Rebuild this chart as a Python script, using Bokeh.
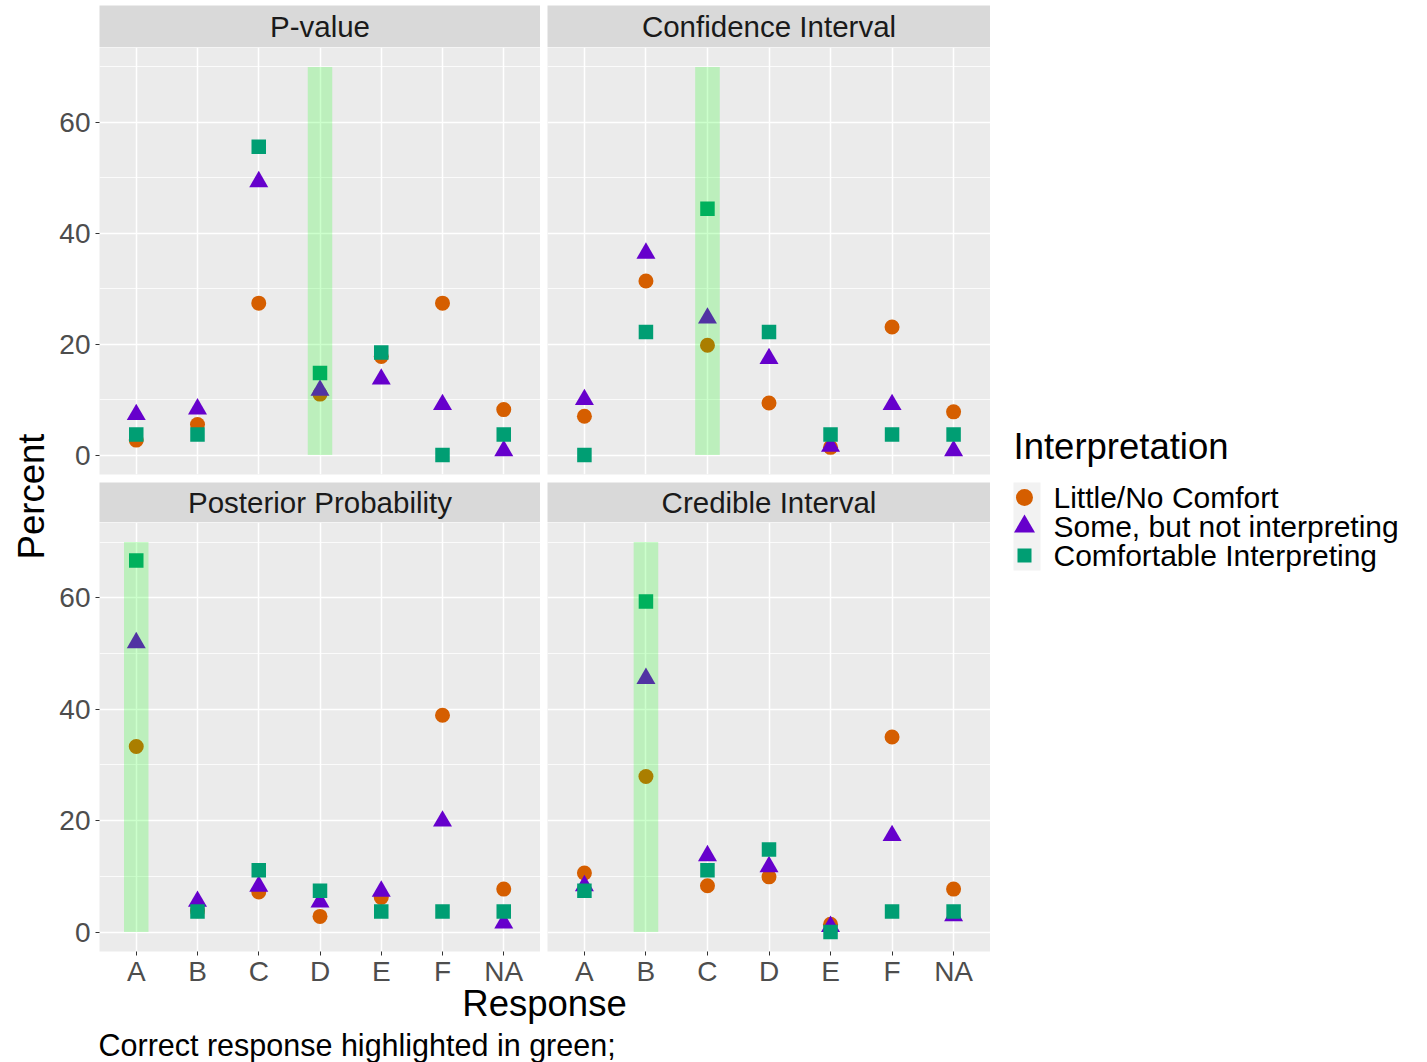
from bokeh.plotting import figure
from bokeh.models import (Range1d, FactorRange, LinearAxis, CategoricalAxis, FixedTicker,
                          CategoricalTicker, Grid, Label, BoxAnnotation)
from bokeh.layouts import row, column
from bokeh.embed import file_html
from bokeh.resources import INLINE

# ---------------- data ----------------
responses = ["A", "B", "C", "D", "E", "F", "NA"]
groups = ["Little/No Comfort", "Some, but not interpreting", "Comfortable Interpreting"]

pval_little = [2.7, 5.5, 27.4, 11.0, 17.8, 27.4, 8.2]
pval_some = [7.3, 8.3, 49.3, 11.7, 13.7, 9.1, 0.8]
pval_comf = [3.7, 3.7, 55.6, 14.8, 18.5, 0.0, 3.7]

ci_little = [7.0, 31.4, 19.8, 9.4, 1.4, 23.1, 7.8]
ci_some = [10.0, 36.4, 24.7, 17.4, 1.6, 9.1, 0.8]
ci_comf = [0.0, 22.2, 44.4, 22.2, 3.7, 3.7, 3.7]

post_little = [33.3, 3.8, 7.2, 2.8, 6.2, 38.9, 7.7]
post_some = [51.9, 5.5, 8.2, 5.4, 7.3, 19.9, 1.6]
post_comf = [66.7, 3.7, 11.1, 7.4, 3.7, 3.7, 3.7]

cred_little = [10.6, 27.9, 8.3, 9.9, 1.4, 35.0, 7.7]
cred_some = [8.3, 45.5, 13.7, 11.7, 1.0, 17.3, 2.9]
cred_comf = [7.4, 59.3, 11.1, 14.8, 0.0, 3.7, 3.7]

panel_titles = ["P-value", "Confidence Interval", "Posterior Probability", "Credible Interval"]
correct_answers = ["D", "C", "A", "B"]
highlight_top = 70
y_ticks = [0, 20, 40, 60]
y_minor = [10, 30, 50, 70]

panel_data = [
    (pval_little, pval_some, pval_comf),
    (ci_little, ci_some, ci_comf),
    (post_little, post_some, post_comf),
    (cred_little, cred_some, cred_comf),
]

# ---------------- styles ----------------
FONT = "Liberation Sans"
colors = ["#D55E00", "#6600CC", "#009E73"]
markers = ["circle", "triangle", "square"]
sizes = [15, 19, 14.5]
PANEL_BG = "#EBEBEB"
STRIP_BG = "#D9D9D9"

W0 = 56          # width of the "Percent" column
LB = 98 - W0     # left border of the left panels
LEFT_W = LB + 442
RIGHT_W = 450    # 7 gap + 443 frame
LEG_W = 1425 - W0 - LEFT_W - RIGHT_W
TOP_STRIP_H = 47
TOP_PANEL_H = 435
BOT_STRIP_H = 40
BOT_BORDER = 39
BOT_PANEL_H = 429 + BOT_BORDER
TOTAL_H = TOP_STRIP_H + TOP_PANEL_H + BOT_STRIP_H + BOT_PANEL_H
OVERLAP = 12
BOTTOM_H = 1062 - TOTAL_H + OVERLAP
BOTTOM_Y0 = TOTAL_H - OVERLAP


def base_fig(width, height, x_range, y_range, left, bottom, bg, top=0):
    p = figure(width=width, height=height, x_range=x_range, y_range=y_range,
               output_backend="svg", toolbar_location=None,
               x_axis_location=None, y_axis_location=None, tools="")
    p.min_border = 0
    p.min_border_left = left
    p.min_border_right = 0
    p.min_border_top = top
    p.min_border_bottom = bottom
    p.background_fill_color = bg
    p.border_fill_color = "white"
    p.outline_line_color = None
    p.xgrid.visible = False
    p.ygrid.visible = False
    return p


def strip(title, width, height, left, top):
    p = base_fig(width, height, Range1d(0, 1), Range1d(0, 1), left, 0, STRIP_BG, top)
    p.add_layout(Label(x=0.5, y=0.5, text=title, text_align="center", text_baseline="middle",
                       text_font=FONT, text_font_size="29.5px", text_color="#1A1A1A"))
    return p


def panel(idx, width, height, left, bottom, show_y, show_x):
    p = base_fig(width, height, FactorRange(factors=responses, range_padding=0.1,
                                            range_padding_units="absolute"),
                 Range1d(-3.5, 73.5), left, bottom, PANEL_BG)
    yg = Grid(dimension=1, ticker=FixedTicker(ticks=y_ticks, minor_ticks=y_minor),
              grid_line_color="white", grid_line_width=1.5,
              minor_grid_line_color="white", minor_grid_line_width=0.8)
    xg = Grid(dimension=0, ticker=CategoricalTicker(), grid_line_color="white", grid_line_width=1.5)
    p.add_layout(yg)
    p.add_layout(xg)
    if show_y:
        ax = LinearAxis(ticker=FixedTicker(ticks=y_ticks))
        ax.axis_line_color = None
        ax.major_tick_in = 0
        ax.major_tick_out = 4
        ax.major_tick_line_color = "#333333"
        ax.minor_tick_line_color = None
        ax.major_label_text_font = FONT
        ax.major_label_text_font_size = "28px"
        ax.major_label_text_color = "#4D4D4D"
        ax.major_label_standoff = 5
        p.add_layout(ax, "left")
    if show_x:
        ax = CategoricalAxis()
        ax.axis_line_color = None
        ax.major_tick_in = 0
        ax.major_tick_out = 4
        ax.major_tick_line_color = "#333333"
        ax.major_label_text_font = FONT
        ax.major_label_text_font_size = "28px"
        ax.major_label_text_color = "#4D4D4D"
        ax.major_label_standoff = 0
        p.add_layout(ax, "below")
    series = panel_data[idx]
    for vals, col, mk, sz in zip(series, colors, markers, sizes):
        p.scatter(x=responses, y=vals, marker=mk, size=sz, fill_color=col, line_color=None)
    p.vbar(x=[correct_answers[idx]], width=0.4, bottom=0, top=highlight_top,
           fill_color="#00FF00", fill_alpha=0.2, line_color=None)
    return p


# left column
s_tl = strip(panel_titles[0], LEFT_W, TOP_STRIP_H, LB, 5)
p_tl = panel(0, LEFT_W, TOP_PANEL_H, LB, 8, True, False)
s_bl = strip(panel_titles[2], LEFT_W, BOT_STRIP_H, LB, 0)
p_bl = panel(2, LEFT_W, BOT_PANEL_H, LB, BOT_BORDER, True, True)
# right column
s_tr = strip(panel_titles[1], RIGHT_W, TOP_STRIP_H, 7, 5)
p_tr = panel(1, RIGHT_W, TOP_PANEL_H, 7, 8, False, False)
s_br = strip(panel_titles[3], RIGHT_W, BOT_STRIP_H, 7, 0)
p_br = panel(3, RIGHT_W, BOT_PANEL_H, 7, BOT_BORDER, False, True)

# y-axis title column (pixel coordinates)
pc = base_fig(W0, TOTAL_H, Range1d(0, W0), Range1d(TOTAL_H, 0), 0, 0, "white")
pc.add_layout(Label(x=31, y=496, text="Percent", angle=1.5708, text_align="center",
                    text_baseline="middle", text_font=FONT, text_font_size="36.5px",
                    text_color="black"))

# legend column (pixel coordinates, x offset 990)
pl = base_fig(LEG_W, TOTAL_H, Range1d(0, LEG_W), Range1d(TOTAL_H, 0), 0, 0, "white")
pl.add_layout(BoxAnnotation(left=23, right=50, top=482, bottom=570, fill_color="#F2F2F2",
                            fill_alpha=1, line_color=None, level="underlay"))
pl.add_layout(Label(x=23, y=446, text="Interpretation", text_align="left", text_baseline="middle",
                    text_font=FONT, text_font_size="36.5px", text_color="black"))
key_x = [34, 34, 34]
key_y = [497, 526, 555]
key_sizes = [17, 21, 14]
for g, col, mk, kx, ky, ks in zip(groups, colors, markers, key_x, key_y, key_sizes):
    pl.scatter(x=[kx], y=[ky], marker=mk, size=ks, fill_color=col, line_color=None)
    pl.add_layout(Label(x=63, y=ky, text=g, text_align="left", text_baseline="middle",
                        text_font=FONT, text_font_size="30px", text_color="black"))

# bottom texts (pixel coordinates), slightly overlapping the (empty) lower border of the panels
pb = base_fig(1425, BOTTOM_H, Range1d(0, 1425), Range1d(BOTTOM_H, 0), 0, 0, "white")
pb.background_fill_alpha = 0
pb.border_fill_alpha = 0
pb.margin = (-OVERLAP, 0, 0, 0)
pb.add_layout(Label(x=544, y=1003 - BOTTOM_Y0, text="Response", text_align="center",
                    text_baseline="middle", text_font=FONT, text_font_size="36.5px",
                    text_color="black"))
pb.add_layout(Label(x=98, y=1044 - BOTTOM_Y0, text="Correct response highlighted in green;",
                    text_align="left", text_baseline="middle", text_font=FONT,
                    text_font_size="30.5px", text_color="black"))

left_col = column(s_tl, p_tl, s_bl, p_bl, spacing=0)
right_col = column(s_tr, p_tr, s_br, p_br, spacing=0)
layout = column(row(pc, left_col, right_col, pl, spacing=0), pb, spacing=0)

open("out.html", "w").write(file_html(layout, INLINE))
